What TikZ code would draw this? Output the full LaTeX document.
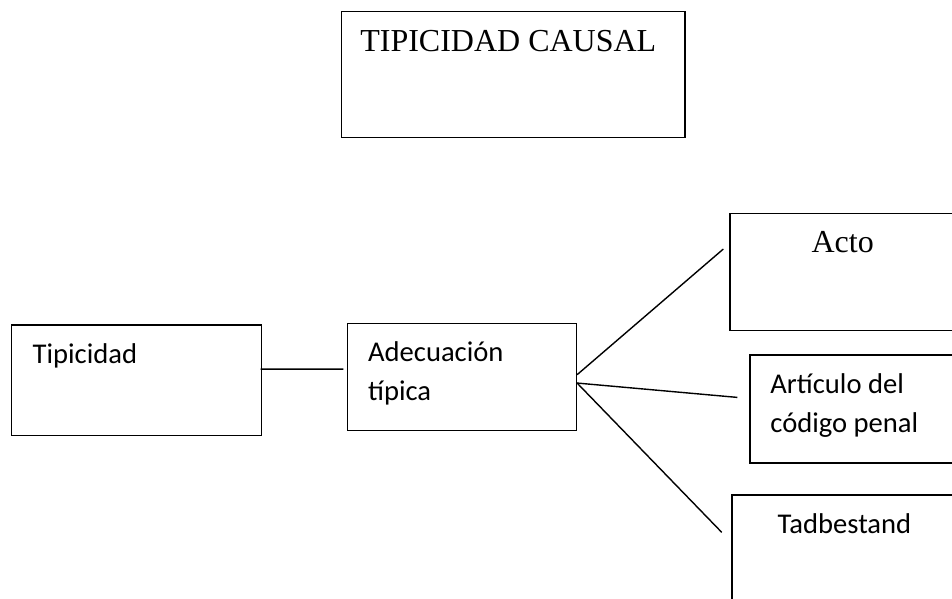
\documentclass[tikz,border=0pt]{standalone}
\usepackage{fontspec}
\setmainfont{Liberation Serif}
\newfontfamily\calibrifont{Carlito}

\begin{document}
\begin{tikzpicture}[x=0.5pt,y=-0.5pt,
  procbox/.style={draw, line width=0.7pt, inner sep=0pt, anchor=north west},
  sanstext/.style={inner sep=0pt, anchor=base west, align=left, font=\calibrifont\fontsize{14.3}{19.5}\selectfont},
  seriftext/.style={inner sep=0pt, anchor=base, font=\fontsize{16}{19}\selectfont},
  link/.style={line width=0.7pt}]
\useasboundingbox (0,0) rectangle (952,599);

%Flowchart: Process [title]
\node [procbox, minimum width=171.65pt, minimum height=63pt] (causal) at (341,11) {};
%Flowchart: Process [tipicidad]
\node [procbox, minimum width=125pt, minimum height=55.35pt] (tip) at (11,324.3) {};
%Flowchart: Process [adecuacion]
\node [procbox, minimum width=114.5pt, minimum height=53.65pt] (adec) at (346.7,322.7) {};
%Flowchart: Process [acto]
\node [procbox, minimum width=113.35pt, minimum height=58.65pt] (acto) at (729.3,212.7) {};
%Flowchart: Process [articulo]
\node [procbox, minimum width=105pt, minimum height=54pt] (art) at (749.3,354.3) {};
%Flowchart: Process [tadbestand]
\node [procbox, minimum width=114.35pt, minimum height=58.85pt] (tad) at (731.3,494.3) {};

%Straight Lines
\draw [link] ([shift={(-1.7,-11.3)}]tip.east) -- ([shift={(-3.4,-8)}]adec.west);
\draw [link] ([shift={(0,-2.35)}]adec.east) -- ([shift={(-6,-23)}]acto.west);
\draw [link] ([shift={(0,6)}]adec.east) -- ([shift={(-12,-11.6)}]art.west);
\draw [link] ([shift={(0,6)}]adec.east) -- ([shift={(-9.6,38)}]tad.north west);

% Text Node
\node [seriftext] (causaltxt) at (508.3,51.7) {TIPICIDAD CAUSAL};
% Text Node
\node [sanstext] (tiptxt) at (32.3,363.3) {Tipicidad};
% Text Node
\node [sanstext] (adectxt) at (367.7,400.7) {Adecuación\\típica};
% Text Node
\node [seriftext] (actotxt) at (842.7,252.3) {Acto};
% Text Node
\node [sanstext] (arttxt) at (770,432.3) {Artículo del\\código penal};
% Text Node
\node [sanstext] (tadtxt) at (777.3,533.3) {Tadbestand};

\end{tikzpicture}
\end{document}
